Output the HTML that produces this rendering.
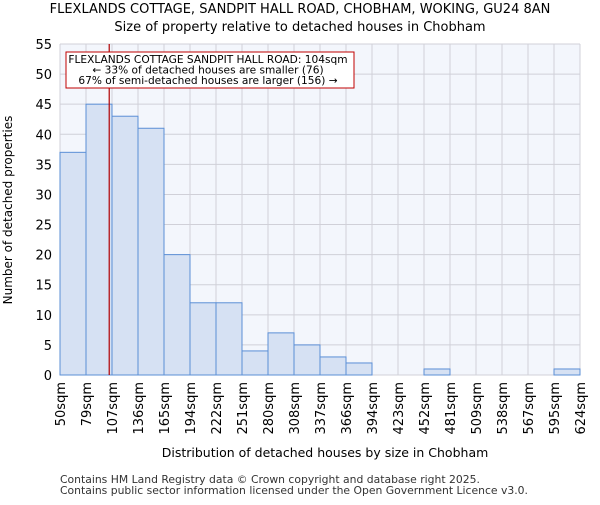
<!DOCTYPE html>
<html><head><meta charset="utf-8"><style>
body{margin:0;background:#fff;font-family:"Liberation Sans","DejaVu Sans",sans-serif}
</style></head><body>
<svg id="c" width="600" height="500" xmlns="http://www.w3.org/2000/svg" font-family="DejaVu Sans, Liberation Sans, sans-serif">
<text x="300" y="13" text-anchor="middle" font-size="13">FLEXLANDS COTTAGE, SANDPIT HALL ROAD, CHOBHAM, WOKING, GU24 8AN</text>
<text x="300" y="31" text-anchor="middle" font-size="13">Size of property relative to detached houses in Chobham</text>
<rect x="60" y="44" width="520" height="331" fill="#f3f6fc"/>
<g id="grid"></g><g id="bars"></g><g id="axes"></g>
<text transform="translate(12,210) rotate(-90)" text-anchor="middle" font-size="12">Number of detached properties</text>
<text x="325" y="457" text-anchor="middle" font-size="12.5">Distribution of detached houses by size in Chobham</text>
<text x="60" y="483" font-size="10.8" fill="#333">Contains HM Land Registry data © Crown copyright and database right 2025.</text>
<text x="60" y="494" font-size="10.8" fill="#333">Contains public sector information licensed under the Open Government Licence v3.0.</text>
</svg>
<script>
const categories=["50sqm","79sqm","107sqm","136sqm","165sqm","194sqm","222sqm","251sqm","280sqm","308sqm","337sqm","366sqm","394sqm","423sqm","452sqm","481sqm","509sqm","538sqm","567sqm","595sqm","624sqm"];
const binEdges=[50,79,107,136,165,194,222,251,280,308,337,366,394,423,452,481,509,538,567,595,624];
const counts=[37,45,43,41,20,12,12,4,7,5,3,2,0,0,1,0,0,0,0,1];
const yTicks=[0,5,10,15,20,25,30,35,40,45,50,55];
const propertySize=104;
const NS="http://www.w3.org/2000/svg";
const X0=60,X1=580,Y0=375,Y1=44,YMAX=55;
const nb=counts.length,bw=(X1-X0)/nb;
function xi(i){return X0+i*bw;}
function y(v){return Y0-(v/YMAX)*(Y0-Y1);}
function xv(v){let i=0;while(i<nb-1&&v>binEdges[i+1])i++;return xi(i)+bw*(v-binEdges[i])/(binEdges[i+1]-binEdges[i]);}
function mk(t,a,p){const e=document.createElementNS(NS,t);for(const k in a)e.setAttribute(k,a[k]);document.getElementById(p).appendChild(e);return e;}
yTicks.forEach(t=>{
 const l=mk("line",{x1:X0,x2:X1,y1:y(t),y2:y(t),stroke:"#d0d0d8","stroke-width":1},"grid");
 
 
 const tx=mk("text",{x:X0-8,y:y(t)+5,"text-anchor":"end","font-size":13},"axes");
 tx.textContent=t;
 
 
});
categories.forEach((c,i)=>{
 const l=mk("line",{x1:xi(i),x2:xi(i),y1:Y1,y2:Y0,stroke:"#d0d0d8","stroke-width":1},"grid");
 
 
 const tx=mk("text",{transform:`translate(${xi(i)+5},382) rotate(-90)`,"text-anchor":"end","font-size":13},"axes");
 tx.textContent=c;
 
 
});
counts.forEach((v,i)=>{
 if(v<=0)return;
 const r=mk("rect",{x:xi(i),y:y(v),width:bw,height:Y0-y(v),fill:"#d6e1f3",stroke:"#5b8fd6","stroke-width":1},"bars");
 
 
});
const px=xv(propertySize);
const rl=mk("line",{x1:px,x2:px,y1:Y1,y2:Y0,stroke:"#b00000","stroke-width":1.2},"axes");


const bx=mk("rect",{x:66,y:52,width:288,height:36,fill:"#fff",stroke:"#c00000","stroke-width":1},"axes");


["FLEXLANDS COTTAGE SANDPIT HALL ROAD: 104sqm","← 33% of detached houses are smaller (76)","67% of semi-detached houses are larger (156) →"].forEach((s,i)=>{
 const t=mk("text",{x:208,y:63+i*10.5,"text-anchor":"middle","font-size":10.6},"axes");
 t.textContent=s;
 
 
});
</script>
</body></html>
